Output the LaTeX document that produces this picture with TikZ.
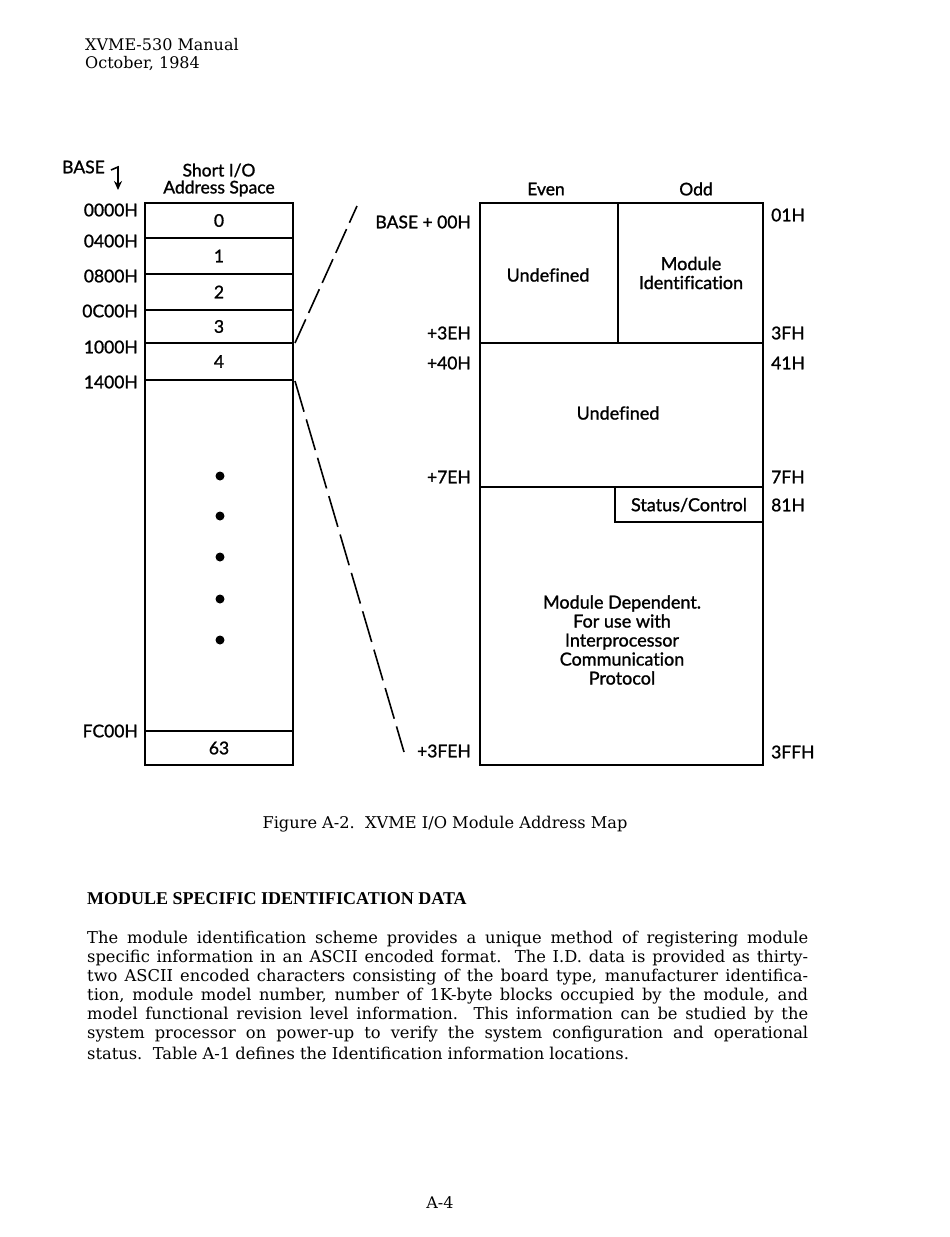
\documentclass[tikz,border=0pt]{standalone}
\usepackage{fontspec}
\setmainfont{DejaVu Serif}
\newfontfamily\diag{Lato}[FakeBold=1.2, Ligatures={NoCommon}]
\newfontfamily\headf{Liberation Serif}
\usetikzlibrary{arrows.meta}
\begin{document}
\begin{tikzpicture}[x=1pt,y=-1pt,
  cell/.style={draw, line width=2pt, inner sep=0pt, font=\diag\fontsize{17.5}{19}\selectfont},
  lbl/.style={inner sep=0pt, font=\diag\fontsize{17.5}{19}\selectfont},
  txt/.style={inner sep=0pt, font=\diag\fontsize{18}{19}\selectfont, align=center},
  zoomline/.style={line width=1.6pt, dash pattern=on 26pt off 7pt},
  dotmark/.style={circle, fill=black, inner sep=0pt, minimum size=9pt},
  body/.style={inner sep=0pt, font=\fontsize{16.3}{19}\selectfont, anchor=west}
]
\useasboundingbox (0,0) rectangle (950,1237);
\fill[white] (0,0) rectangle (950,1237);

% header
\node[body, font=\fontsize{16}{19}\selectfont] (h1) at (85,45) {XVME-530 Manual};
\node[body, font=\fontsize{16}{19}\selectfont] (h2) at (85,64) {October, 1984};

% left column
\node[lbl, anchor=west] (base) at (62,167) {BASE};
\coordinate (bt) at (111,170);
\coordinate (bc) at (118,167);
\coordinate (btip) at (118,190);
\draw[line width=1.6pt, -{Stealth[length=9pt,width=8pt]}] (bt) -- (bc) -- (btip);
\node[txt, font=\diag\fontsize{17.5}{17}\selectfont] (sio) at (219,180) {Short I/O\\Address Space};

\node[cell, minimum width=148, minimum height=35] (s0) at (219,220.5) {0};
\node[cell, minimum width=148, minimum height=36] (s1) at (219,256) {1};
\node[cell, minimum width=148, minimum height=36] (s2) at (219,292) {2};
\node[cell, minimum width=148, minimum height=33] (s3) at (219,326.5) {3};
\node[cell, minimum width=148, minimum height=37] (s4) at (219,361.5) {4};
\node[cell, minimum width=148, minimum height=351] (sm) at (219,555.5) {};
\node[cell, minimum width=148, minimum height=34] (s63) at (219,748) {63};

\foreach \yy in {476,516,557,599,640} \node[dotmark] at (220,\yy) {};

\node[lbl, anchor=east] (a0) at (138,210) {0000H};
\node[lbl, anchor=east] (a1) at (138,241) {0400H};
\node[lbl, anchor=east] (a2) at (138,276) {0800H};
\node[lbl, anchor=east] (a3) at (138,311) {0C00H};
\node[lbl, anchor=east] (a4) at (138,347) {1000H};
\node[lbl, anchor=east] (a5) at (138,382) {1400H};
\node[lbl, anchor=east] (a63) at (138,731) {FC00H};

% right box
\node[lbl] (even) at (546,189) {Even};
\node[lbl] (odd) at (696,189) {Odd};
\node[cell, minimum width=138, minimum height=140] (ue) at (549,273) {};
\node[cell, minimum width=145, minimum height=140] (mi) at (690.5,273) {};
\node[txt] at (548,275) {Undefined};
\node[txt] at (691,273) {Module\\Identification};
\node[cell, minimum width=283, minimum height=144] (u2) at (621.5,415) {};
\node[txt] at (618,413) {Undefined};
\node[cell, minimum width=283, minimum height=278] (md) at (621.5,626) {};
\node[cell, minimum width=148, minimum height=35] (sc) at (689,504.5) {};
\node[txt] at (689,505) {Status/Control};
\node[txt] at (622,640) {Module Dependent.\\For use with\\Interprocessor\\Communication\\Protocol};

\node[lbl, anchor=east] (r0) at (471,222) {BASE + 00H};
\node[lbl, anchor=east] (r1) at (471,333) {+3EH};
\node[lbl, anchor=east] (r2) at (471,363) {+40H};
\node[lbl, anchor=east] (r3) at (471,477) {+7EH};
\node[lbl, anchor=east] (r4) at (471,751) {+3FEH};

\node[lbl, anchor=west] (o0) at (771,215) {01H};
\node[lbl, anchor=west] (o1) at (771,333) {3FH};
\node[lbl, anchor=west] (o2) at (771,363) {41H};
\node[lbl, anchor=west] (o3) at (771,477) {7FH};
\node[lbl, anchor=west] (o4) at (771,505) {81H};
\node[lbl, anchor=west] (o5) at (771,752) {3FFH};

% zoom lines
\coordinate (z1a) at (295,343);
\coordinate (z1b) at (357,206);
\coordinate (z2a) at (295,381);
\coordinate (z2b) at (404,752);
\draw[zoomline] (z1a) -- (z1b);
\draw[zoomline, dash pattern=on 32pt off 8pt] (z2a) -- (z2b);

% caption
\node[inner sep=0pt, font=\fontsize{16.2}{19}\selectfont] (cap) at (445,824) {Figure A-2.\ \ XVME I/O Module Address Map};

% text
\node[body, font=\headf\bfseries\fontsize{18}{19}\selectfont] (hd) at (87,899) {MODULE SPECIFIC IDENTIFICATION DATA};
\node[body] (l1) at (87,939) {\makebox[721pt][s]{The module identification scheme provides a unique method of registering module}};
\node[body] (l2) at (87,958) {\makebox[721pt][s]{specific information in an ASCII encoded format.\ \ The I.D. data is provided as thirty-}};
\node[body] (l3) at (87,977) {\makebox[721pt][s]{two ASCII encoded characters consisting of the board type, manufacturer identifica-}};
\node[body] (l4) at (87,996) {\makebox[721pt][s]{tion, module model number, number of 1K-byte blocks occupied by the module, and}};
\node[body] (l5) at (87,1015) {\makebox[721pt][s]{model functional revision level information.\ \ This information can be studied by the}};
\node[body] (l6) at (87,1034) {\makebox[721pt][s]{system processor on power-up to verify the system configuration and operational}};
\node[body] (l7) at (87,1053) {status.\ \ Table A-1 defines the Identification information locations.};

\node[inner sep=0pt, font=\fontsize{16}{19}\selectfont] (pg) at (440,1203) {A-4};
\end{tikzpicture}
\end{document}
